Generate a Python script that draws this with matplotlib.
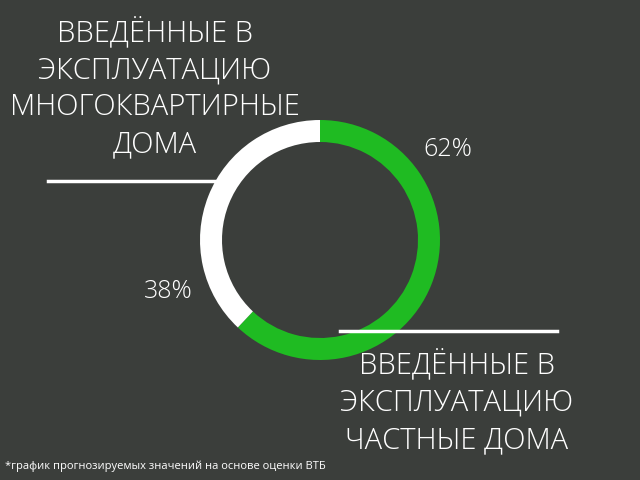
import matplotlib.pyplot as plt

bg = '#3b3e3b'
shares = [62, 38]
colors = ['#1fbb22', '#ffffff']
pct_labels = ['62%', '38%']
label_top = 'ВВЕДЁННЫЕ В\nЭКСПЛУАТАЦИЮ\nМНОГОКВАРТИРНЫЕ\nДОМА'
label_bottom = 'ВВЕДЁННЫЕ В\nЭКСПЛУАТАЦИЮ\nЧАСТНЫЕ ДОМА'
note = '*график прогнозируемых значений на основе оценки ВТБ'

plt.rcParams['font.family'] = ['Open Sans', 'DejaVu Sans']
fig = plt.figure(figsize=(6.4, 4.8), dpi=100, facecolor=bg)
ax = fig.add_axes([0, 0, 1, 1])
ax.set_facecolor(bg)

ax.pie(shares, colors=colors, startangle=90, counterclock=False,
       center=(320, 240), radius=120, wedgeprops=dict(width=22, linewidth=0),
       frame=True)
ax.set_xlim(0, 640)
ax.set_ylim(0, 480)
ax.set_aspect('auto')
ax.axis('off')

ax.text(155, 480 - 88, label_top, ha='center', va='center', fontsize=21,
        color='white', linespacing=1.34, fontweight='light')
ax.text(457, 480 - 402, label_bottom, ha='center', va='center', fontsize=21,
        color='white', linespacing=1.34, fontweight='light')
ax.text(448, 480 - 150, pct_labels[0], ha='center', va='center', fontsize=18,
        color='white', fontweight='light')
ax.text(168, 480 - 291, pct_labels[1], ha='center', va='center', fontsize=18,
        color='white', fontweight='light')
ax.plot([48, 215], [480 - 181] * 2, color='white', lw=2.5)
ax.plot([340, 557], [480 - 331] * 2, color='white', lw=2.5)
ax.text(5, 480 - 466, note, ha='left', va='center', fontsize=8, color='white')

fig.savefig('out.png', dpi=100, facecolor=bg)
